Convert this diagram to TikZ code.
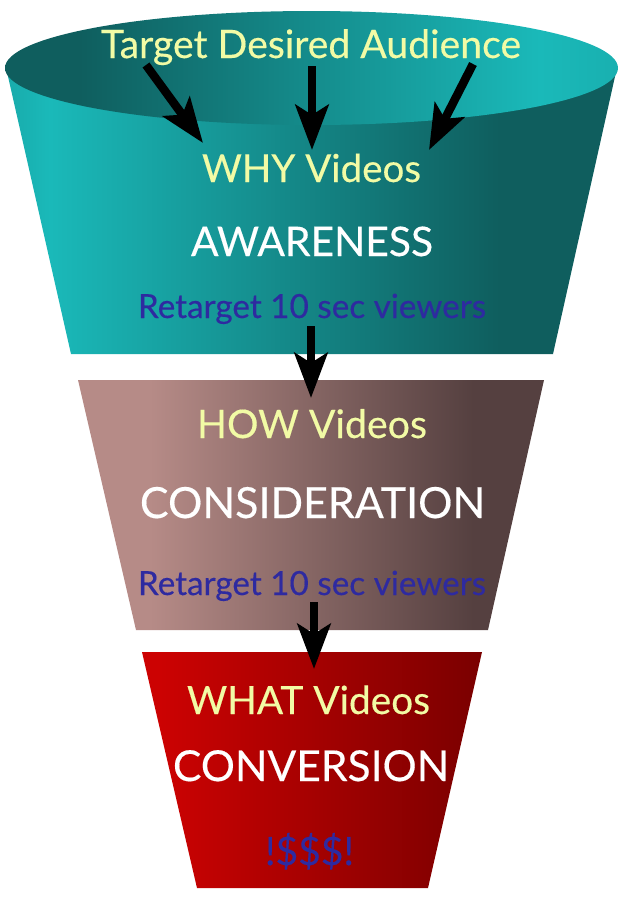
\documentclass[tikz,border=0pt]{standalone}
\usepackage{fontspec}
\setmainfont{Lato}[FakeBold=0.35]
\usepackage{graphicx}
\usetikzlibrary{arrows.meta}
\definecolor{tealL}{HTML}{1AB9B9}
\definecolor{tealD}{HTML}{0F5E5E}
\definecolor{brownL}{HTML}{B68B87}
\definecolor{brownD}{HTML}{554040}
\definecolor{redL}{HTML}{CC0202}
\definecolor{redD}{HTML}{7A0000}
\definecolor{paleY}{HTML}{F2FBA5}
\definecolor{navyT}{HTML}{2E2AA0}
\pgfdeclarehorizontalshading{bodyA}{100bp}{color(0bp)=(tealL!85!tealD); color(25bp)=(tealL!85!tealD); color(28.5bp)=(tealL); color(65.5bp)=(tealD); color(100bp)=(tealD)}
\pgfdeclarehorizontalshading{rimA}{100bp}{color(0bp)=(tealD); color(31bp)=(tealD); color(68.6bp)=(tealL); color(75bp)=(tealL!90!tealD); color(100bp)=(tealL!90!tealD)}
\pgfdeclarehorizontalshading{bodyB}{100bp}{color(0bp)=(brownL); color(32.7bp)=(brownL); color(67.4bp)=(brownD); color(100bp)=(brownD)}
\pgfdeclarehorizontalshading{bodyC}{100bp}{color(0bp)=(redL); color(27.6bp)=(redL); color(75bp)=(redD); color(100bp)=(redD)}
\newcommand{\fitw}[2]{\resizebox{#1pt}{!}{#2}}
\tikzset{
  lbl/.style={anchor=base,inner sep=0pt,outer sep=0pt},
  pale/.style={lbl,text=paleY},
  whitelbl/.style={lbl,text=white},
  navy/.style={lbl,text=navyT},
  flow/.style={draw=black,line width=8.5pt,-{Stealth[length=45pt,width=33pt,inset=10pt]}},
}
\begin{document}
\begin{tikzpicture}[x=1pt,y=-1pt]
\useasboundingbox (0,0) rectangle (623,900);
% funnel shapes
\shade[shading=bodyA] (7,72) -- (616,72) -- (553,354) -- (71,354) -- cycle;
\shade[shading=rimA] (311.5,68) ellipse [x radius=306.5,y radius=57];
\shade[shading=bodyB] (78,380) -- (544,380) -- (488,630) -- (136,630) -- cycle;
\shade[shading=bodyC] (142,652) -- (482,652) -- (428,888) -- (197,888) -- cycle;
% anchors
\coordinate (a1s) at (146,65);  \coordinate (a1e) at (203,143);
\coordinate (a2s) at (312,66);  \coordinate (a2e) at (312,150);
\coordinate (a3s) at (473,64);  \coordinate (a3e) at (429,150);
\coordinate (a4s) at (311,326); \coordinate (a4e) at (311,398);
\coordinate (a5s) at (314,602); \coordinate (a5e) at (314,669);
% connectors
\draw[flow] (a1s) -- (a1e);
\draw[flow] (a2s) -- (a2e);
\draw[flow] (a3s) -- (a3e);
\draw[flow] (a4s) -- (a4e);
\draw[flow] (a5s) -- (a5e);
% labels
\node[pale] (target) at (311,58) {\fitw{420}{Target Desired Audience}};
\node[pale] (why) at (311.5,182) {\fitw{219}{WHY Videos}};
\node[whitelbl] (aware) at (312,256) {\fitw{242}{AWARENESS}};
\node[navy] (ret1) at (312,318) {\fitw{348}{Retarget 10 sec viewers}};
\node[pale] (how) at (312,438) {\fitw{230}{HOW Videos}};
\node[whitelbl] (cons) at (312.5,518) {\fitw{345}{CONSIDERATION}};
\node[navy] (ret2) at (312,595) {\fitw{348}{Retarget 10 sec viewers}};
\node[pale] (what) at (308.5,714) {\fitw{243}{WHAT Videos}};
\node[whitelbl] (conv) at (311,781) {\fitw{276}{CONVERSION}};
\node[navy] (money) at (309.5,865) {\fitw{89}{!\$\$\$!}};
\end{tikzpicture}
\end{document}
